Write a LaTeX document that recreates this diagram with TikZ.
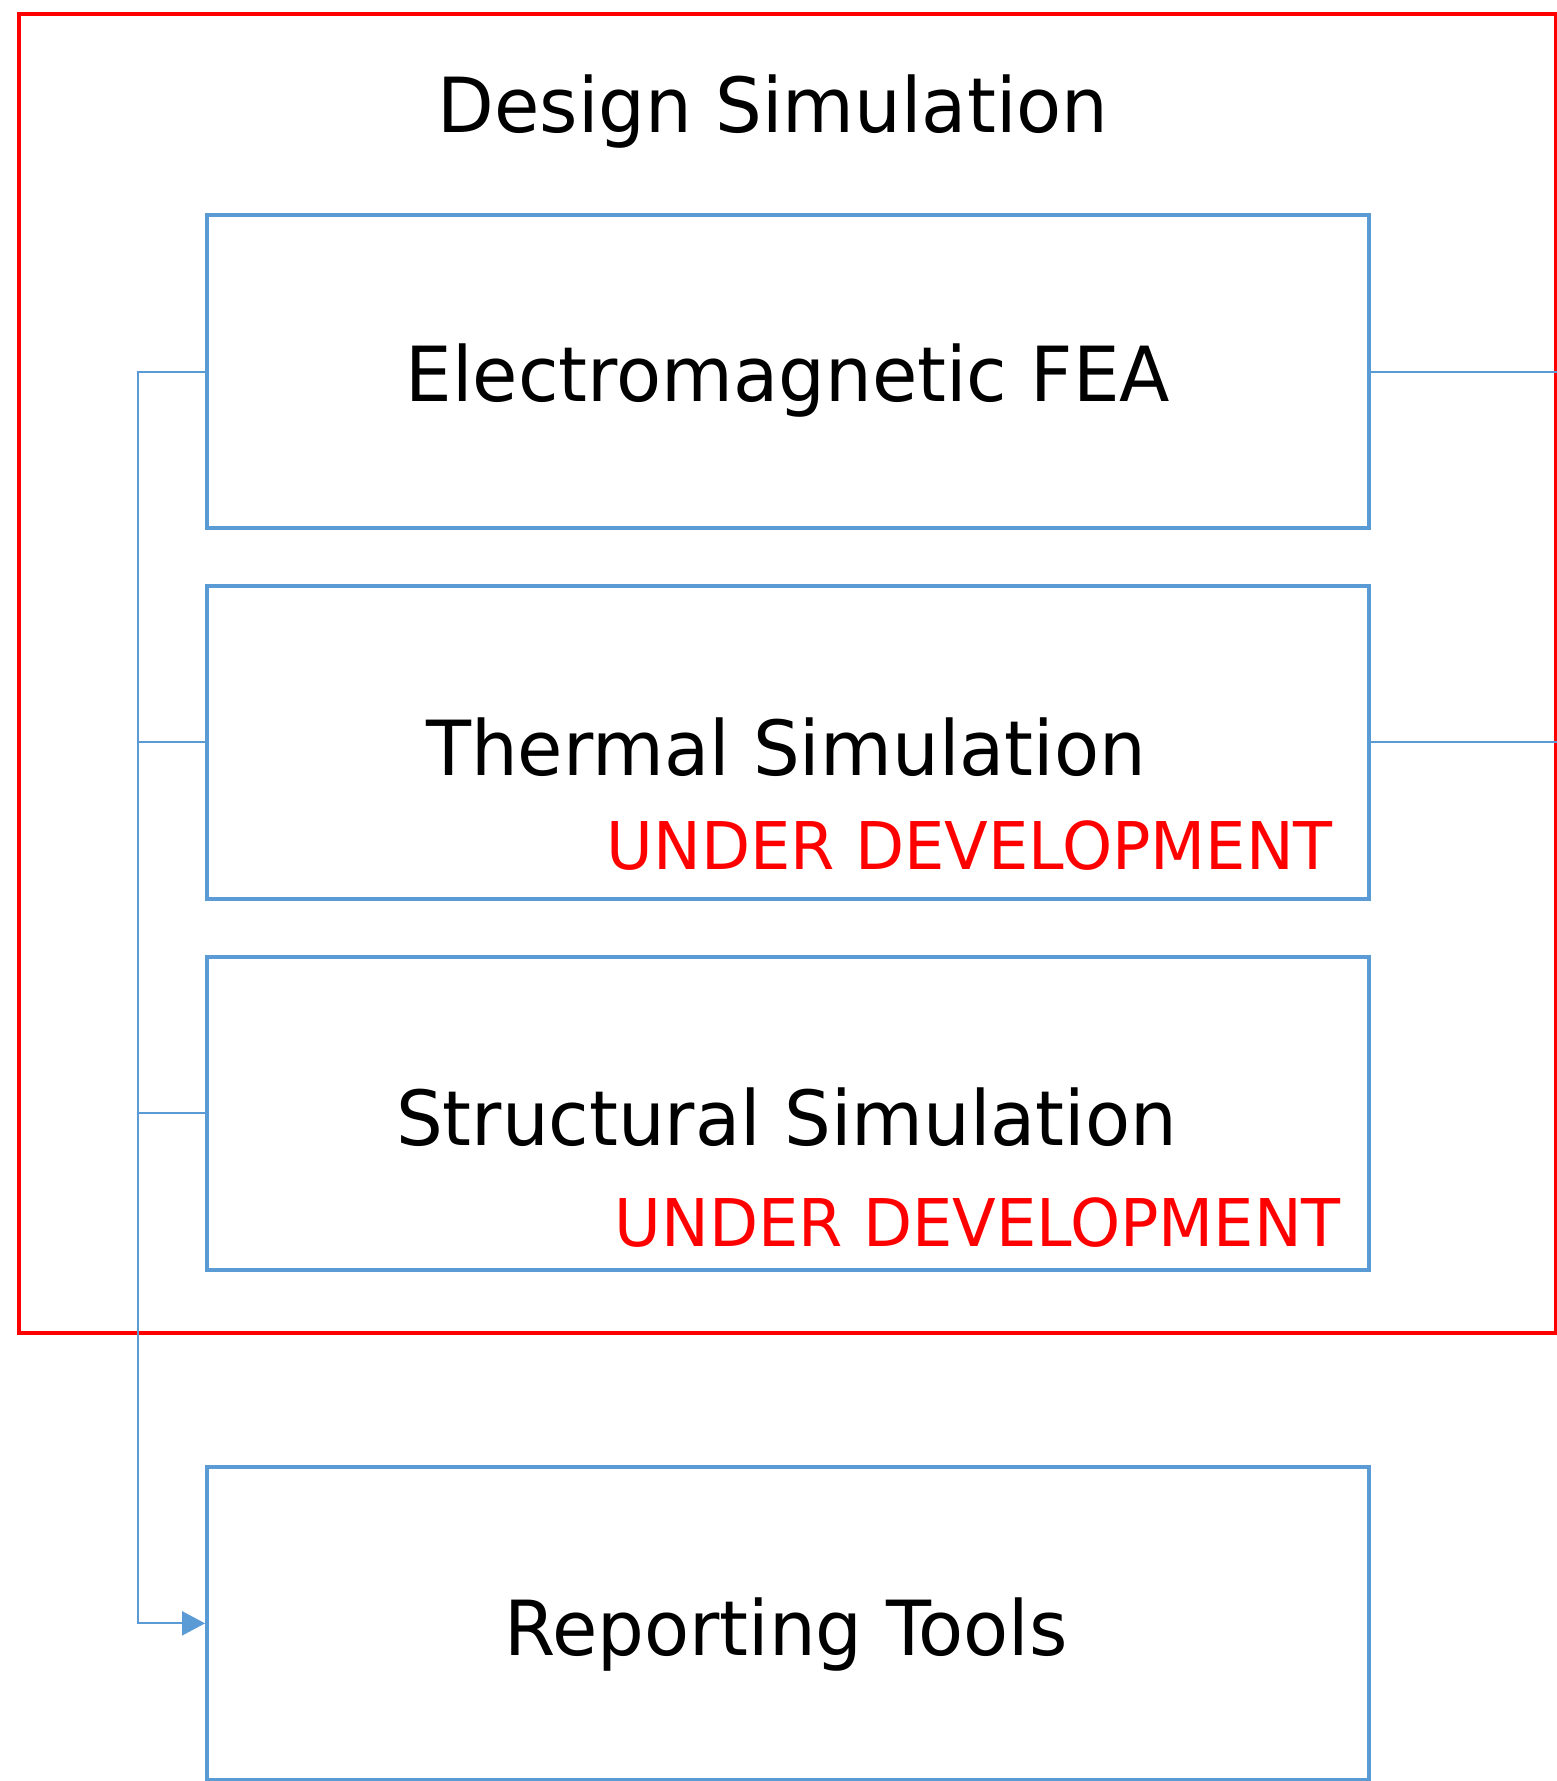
\documentclass[tikz,border=0pt]{standalone}
\usepackage{fontspec}
\setmainfont{DejaVu Sans}[FakeStretch=0.97]
\usetikzlibrary{arrows.meta}
\definecolor{boxblue}{HTML}{5B9BD5}
\definecolor{alertred}{HTML}{FF0000}
\tikzset{
  stage/.style={draw=boxblue, line width=3.8pt, rectangle, inner sep=0pt,
    minimum width=1161.7pt, minimum height=312.7pt},
  group/.style={draw=alertred, line width=3.8pt, rectangle, inner sep=0pt},
  conn/.style={draw=boxblue, line width=2pt},
  title/.style={anchor=base, inner sep=0pt, font=\fontsize{76}{80}\selectfont},
  note/.style={anchor=base east, inner sep=0pt, text=alertred,
    font=\fontsize{65.8}{70}\selectfont},
}
\begin{document}
\begin{tikzpicture}[x=1pt, y=-1pt]
  \useasboundingbox (0,0) rectangle (1557,1781);

  % outer group frame
  \node[group, minimum width=1536.5pt, minimum height=1319pt] (design) at (787.25,673.5) {};
  \node[title] (designlbl) at (773,132) {Design Simulation};

  % simulation stages
  \node[stage] (em)  at (787.85,371.65) {};
  \node[stage] (th)  at (787.85,742.35) {};
  \node[stage] (st)  at (787.85,1113.35) {};
  \node[stage] (rep) at (787.85,1623.35) {};

  \node[title] (emlbl)  at (788,401.7)  {Electromagnetic FEA};
  \node[title] (thlbl)  at (786,775.5)  {Thermal Simulation};
  \node[note]  (thnote) at (1333,869.5) {UNDER DEVELOPMENT};
  \node[title] (stlbl)  at (786.5,1145) {Structural Simulation};
  \node[note]  (stnote) at (1341,1246)  {UNDER DEVELOPMENT};
  \node[title] (replbl) at (786,1655)   {Reporting Tools};

  % links to the right edge of the group
  \draw[conn] (em.east) -- (em.east -| design.east);
  \draw[conn] (th.east) -- (th.east -| design.east);

  % collector on the left feeding the reporting tools
  \coordinate (trunk) at (138,371.65);
  \draw[conn, -{Triangle[length=23pt, width=24pt]}]
    ([xshift=4pt]em.west) -- (trunk) |- (rep.west);
  \draw[conn] ([xshift=4pt]th.west) -- (th.west -| trunk);
  \draw[conn] ([xshift=4pt]st.west) -- (st.west -| trunk);
\end{tikzpicture}
\end{document}
